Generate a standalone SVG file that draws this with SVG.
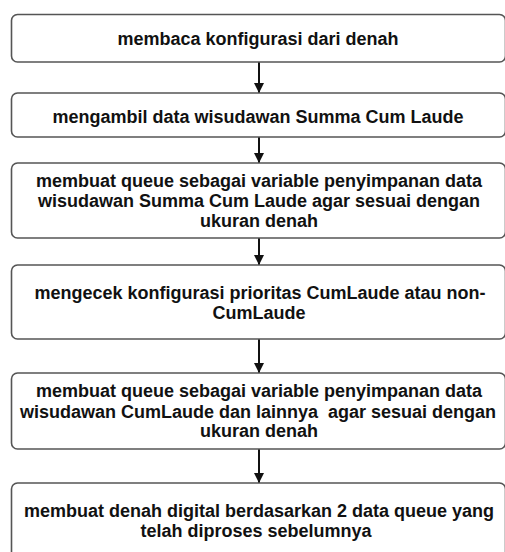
<svg xmlns="http://www.w3.org/2000/svg" width="505" height="552" viewBox="0 0 505 552">
<defs>
<style>
.box{fill:#fff;stroke:#555;stroke-width:1.6}
.t{font-family:"Liberation Sans",Arial,sans-serif;font-size:18px;font-weight:bold;fill:#111;text-anchor:middle}
.c{stroke:#111;stroke-width:2;fill:none}
</style>
<marker id="ah" viewBox="0 0 10 10" refX="10" refY="5" markerWidth="5" markerHeight="5" markerUnits="strokeWidth" orient="auto">
<path d="M0,0 L10,5 L0,10 z" fill="#111"/>
</marker>
</defs>
<rect width="505" height="552" fill="#fff"/>
<g id="connectors">
<line class="c" x1="259" y1="62" x2="259" y2="93" marker-end="url(#ah)"/>
<line class="c" x1="259" y1="137" x2="259" y2="163" marker-end="url(#ah)"/>
<line class="c" x1="259" y1="238" x2="259" y2="265" marker-end="url(#ah)"/>
<line class="c" x1="259" y1="339" x2="259" y2="373" marker-end="url(#ah)"/>
<line class="c" x1="259" y1="449" x2="259" y2="483" marker-end="url(#ah)"/>
</g>
<g id="n1">
<rect class="box" x="11.5" y="14.5" width="494" height="47.5" rx="6"/>
<text class="t" x="258" y="45">membaca konfigurasi dari denah</text>
</g>
<g id="n2">
<rect class="box" x="11.5" y="93" width="494" height="44" rx="6"/>
<text class="t" x="258" y="123">mengambil data wisudawan Summa Cum Laude</text>
</g>
<g id="n3">
<rect class="box" x="11.5" y="163" width="494" height="75" rx="6"/>
<text class="t" x="259" y="187">membuat queue sebagai variable penyimpanan data</text>
<text class="t" x="259" y="207">wisudawan Summa Cum Laude agar sesuai dengan</text>
<text class="t" x="259" y="227">ukuran denah</text>
</g>
<g id="n4">
<rect class="box" x="11.5" y="265" width="494" height="74" rx="6"/>
<text class="t" x="260" y="299">mengecek konfigurasi prioritas CumLaude atau non-</text>
<text class="t" x="259" y="319">CumLaude</text>
</g>
<g id="n5">
<rect class="box" x="11.5" y="373" width="494" height="76" rx="6"/>
<text class="t" x="259" y="397">membuat queue sebagai variable penyimpanan data</text>
<text class="t" x="258" y="418" xml:space="preserve">wisudawan CumLaude dan lainnya  agar sesuai dengan</text>
<text class="t" x="259" y="437">ukuran denah</text>
</g>
<g id="n6">
<rect class="box" x="11.5" y="483" width="494" height="76" rx="6"/>
<text class="t" x="259" y="517">membuat denah digital berdasarkan 2 data queue yang</text>
<text class="t" x="256" y="537">telah diproses sebelumnya</text>
</g>
</svg>
